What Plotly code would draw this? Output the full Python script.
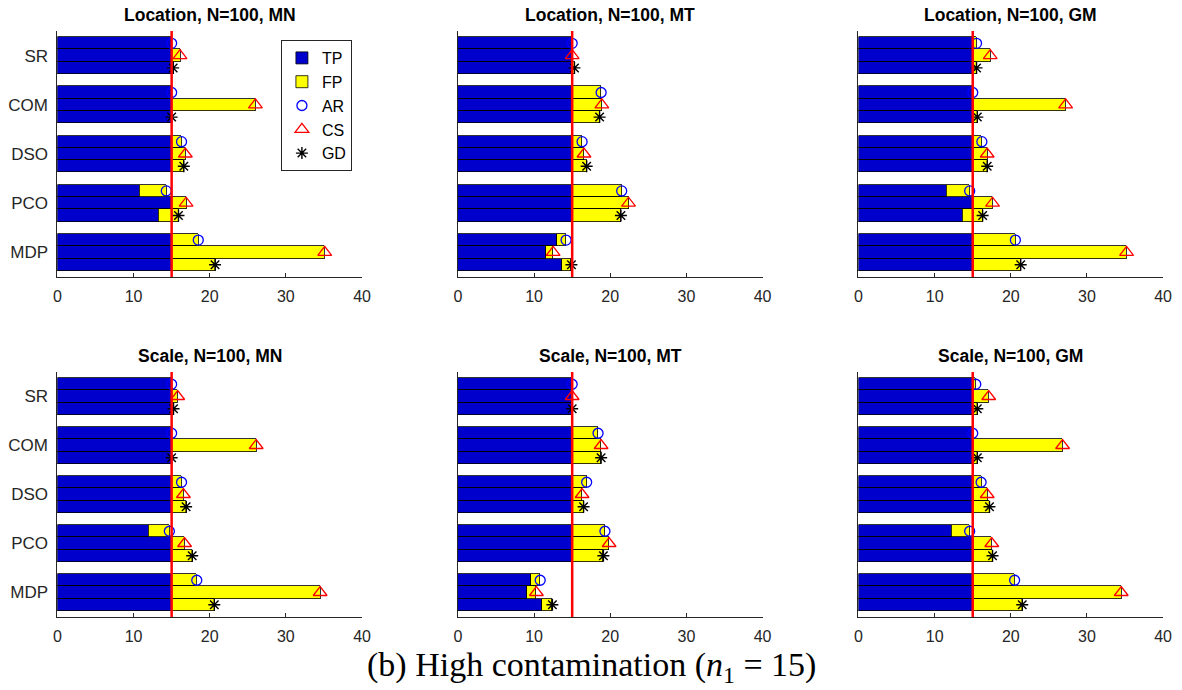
import plotly.graph_objects as go

# ---------------- data ----------------
methods = ["SR", "COM", "DSO", "PCO", "MDP"]
estimators = ["AR", "CS", "GD"]
titles = ["Location, N=100, MN", "Location, N=100, MT", "Location, N=100, GM",
          "Scale, N=100, MN", "Scale, N=100, MT", "Scale, N=100, GM"]
n1 = 15
x_ticks = [0, 10, 20, 30, 40]

# TP / FP per estimator (AR, CS, GD), per method (SR, COM, DSO, PCO, MDP)
loc_mn_tp = [[15, 15, 15, 10.75, 15], [15, 15, 15, 15, 15], [15, 15, 15, 13.2, 15]]
loc_mn_fp = [[0, 0, 1.3, 3.55, 3.5], [1.1, 11.0, 1.8, 1.9, 20.1], [0.2, 0, 1.6, 2.7, 5.7]]

loc_mt_tp = [[15, 15, 15, 15, 13.0], [15, 15, 15, 15, 11.6], [15, 15, 15, 15, 13.7]]
loc_mt_fp = [[0, 3.8, 1.3, 6.5, 1.2], [0, 3.9, 1.55, 7.4, 0.9], [0.3, 3.6, 1.9, 6.4, 1.2]]

loc_gm_tp = [[15, 15, 15, 11.5, 15], [15, 15, 15, 15, 15], [15, 15, 15, 13.6, 15]]
loc_gm_fp = [[0.5, 0, 1.2, 3.1, 5.6], [2.3, 12.2, 1.9, 2.6, 20.2], [0.5, 0.6, 1.9, 2.7, 6.3]]

sc_mn_tp = [[15, 15, 15, 12.0, 15], [15, 15, 15, 15, 15], [15, 15, 15, 15, 15]]
sc_mn_fp = [[0, 0, 1.3, 2.7, 3.3], [0.8, 11.1, 1.55, 1.7, 19.5], [0.25, 0, 1.9, 2.7, 5.6]]

sc_mt_tp = [[15, 15, 15, 15, 9.6], [15, 15, 15, 15, 9.05], [15, 15, 15, 15, 11.05]]
sc_mt_fp = [[0, 3.4, 1.9, 4.3, 1.2], [0, 3.8, 1.3, 4.85, 1.25], [0, 3.8, 1.5, 4.1, 1.35]]

sc_gm_tp = [[15, 15, 15, 12.2, 15], [15, 15, 15, 15, 15], [15, 15, 15, 15, 15]]
sc_gm_fp = [[0.4, 0, 1.1, 2.4, 5.5], [2.1, 11.8, 1.9, 2.5, 19.5], [0.6, 0.6, 2.2, 2.6, 6.5]]

panels = [(loc_mn_tp, loc_mn_fp), (loc_mt_tp, loc_mt_fp), (loc_gm_tp, loc_gm_fp),
          (sc_mn_tp, sc_mn_fp), (sc_mt_tp, sc_mt_fp), (sc_gm_tp, sc_gm_fp)]

# ---------------- styling ----------------
W, H = 1182, 690
BLUE = "#0000CC"
YEL = "#FFFF00"
AXC = "#262626"
FONT = "Liberation Sans, Arial, sans-serif"
offsets = [-0.25, 0.0, 0.25]
bar_w = 0.25
marker_styles = [
    dict(symbol="circle-open", color="blue", size=10, line=dict(color="blue", width=1.3)),
    dict(symbol="triangle-up-open", color="red", size=12, line=dict(color="red", width=1.3)),
    dict(symbol="asterisk-open", color="black", size=10, line=dict(color="black", width=1.4)),
]

col_px = [(54, 362), (459, 767), (864, 1172)]
row_px = [(31, 277), (372, 617)]

fig = go.Figure()
layout = dict(
    width=W, height=H, margin=dict(l=0, r=0, t=0, b=0),
    paper_bgcolor="white", plot_bgcolor="white",
    barmode="stack", bargap=0,
    font=dict(family=FONT, color=AXC, size=15),
    shapes=[], annotations=[],
)

for k, (tp, fp) in enumerate(panels):
    r, c = divmod(k, 3)
    sfx = "" if k == 0 else str(k + 1)
    xa, ya = "x" + sfx, "y" + sfx
    ys, tps, fps = [], [], []
    for e in range(3):
        for m in range(5):
            ys.append(m + 1 + offsets[e])
            tps.append(tp[e][m])
            fps.append(fp[e][m])
    show = (k == 0)
    fig.add_trace(go.Bar(x=tps, y=ys, orientation="h", width=bar_w, name="TP",
                         marker=dict(color=BLUE, line=dict(color="black", width=0.8)),
                         xaxis=xa, yaxis=ya, showlegend=show, legendgroup="TP"))
    fig.add_trace(go.Bar(x=fps, y=ys, orientation="h", width=bar_w, name="FP",
                         marker=dict(color=YEL, line=dict(color="black", width=0.8)),
                         xaxis=xa, yaxis=ya, showlegend=show, legendgroup="FP"))
    for e in range(3):
        xs = [tp[e][m] + fp[e][m] for m in range(5)]
        yy = [m + 1 + offsets[e] for m in range(5)]
        fig.add_trace(go.Scatter(x=xs, y=yy, mode="markers", name=estimators[e],
                                 marker=marker_styles[e], xaxis=xa, yaxis=ya,
                                 showlegend=show, legendgroup=estimators[e],
                                 cliponaxis=False))
    x0, x1 = col_px[c]
    yt, yb = row_px[r]
    layout["xaxis" + sfx] = dict(
        domain=[x0 / W, x1 / W], anchor=ya, range=[0, 40], tickvals=x_ticks,
        showline=True, linecolor=AXC, linewidth=1, ticks="inside", ticklen=4,
        tickcolor=AXC, showgrid=False, zeroline=False, mirror=False,
        tickfont=dict(size=16, color=AXC), ticklabelstandoff=5)
    yax = dict(
        domain=[1 - yb / H, 1 - yt / H], anchor=xa, range=[5.5, 0.5],
        showline=True, linecolor=AXC, linewidth=1, ticks="", showgrid=False,
        zeroline=False, tickfont=dict(size=17, color=AXC), ticklabelstandoff=5)
    if c == 0:
        yax.update(tickvals=[1, 2, 3, 4, 5], ticktext=methods, showticklabels=True)
    else:
        yax.update(showticklabels=False)
    layout["yaxis" + sfx] = yax
    layout["shapes"].append(dict(type="line", xref=xa, yref=ya + " domain",
                                 x0=n1, x1=n1, y0=0, y1=1,
                                 line=dict(color="red", width=2.5), layer="above"))
    layout["annotations"].append(dict(
        text="<b>" + titles[k] + "</b>", xref="paper", yref="paper",
        x=(x0 + x1) / 2 / W, y=1 - (yt - 16) / H, xanchor="center", yanchor="middle",
        showarrow=False, font=dict(size=17.5, color="black", family=FONT)))

layout["annotations"].append(dict(
    text="(b) High contamination (<i>n</i><sub>1</sub> = 15)", xref="paper", yref="paper",
    x=594 / W, y=1 - 667 / H, xanchor="center", yanchor="middle", showarrow=False,
    font=dict(size=34, color="black", family="Liberation Serif, DejaVu Serif, serif")))

layout["legend"] = dict(
    x=280 / W, y=1 - 40 / H, xanchor="left", yanchor="top",
    bgcolor="white", bordercolor=AXC, borderwidth=1,
    font=dict(size=16, color="black", family=FONT),
    traceorder="normal", itemwidth=30, tracegroupgap=0)

fig.update_layout(**layout)
fig.write_html("out.html")
